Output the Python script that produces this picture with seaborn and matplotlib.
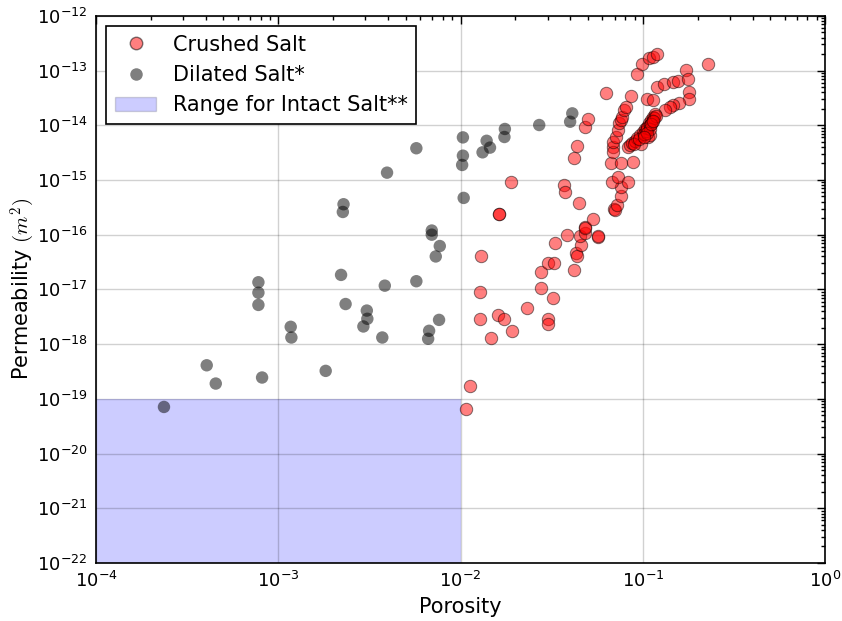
import matplotlib
matplotlib.use("Agg")
import matplotlib.pyplot as plt
import matplotlib.ticker as mticker
from matplotlib.lines import Line2D
from matplotlib.patches import Patch
import seaborn as sns
import pandas as pd
import numpy as np

# ---------------- data ----------------
dilated_porosity = [2.36e-4, 4.05e-4, 4.54e-4, 7.78e-4, 7.78e-4, 7.78e-4, 8.15e-4,
                    1.17e-3, 1.18e-3, 1.82e-3, 2.21e-3, 2.28e-3, 2.26e-3, 2.34e-3,
                    3.06e-3, 3.08e-3, 2.93e-3, 3.72e-3, 3.84e-3, 3.95e-3, 5.72e-3,
                    5.72e-3, 6.95e-3, 6.95e-3, 7.69e-3, 7.31e-3, 7.62e-3, 6.72e-3,
                    6.64e-3, 1.03e-2, 1.03e-2, 1.02e-2, 1.04e-2, 1.39e-2, 1.45e-2,
                    1.32e-2, 1.75e-2, 1.74e-2, 2.7e-2, 4.1e-2, 3.99e-2]
dilated_perm = [7.1e-20, 4.1e-19, 1.9e-19, 1.35e-17, 8.7e-18, 5.2e-18, 2.45e-19,
                2.07e-18, 1.32e-18, 3.24e-19, 1.84e-17, 3.6e-16, 2.6e-16, 5.4e-18,
                4.1e-18, 2.9e-18, 2.1e-18, 1.32e-18, 1.17e-17, 1.36e-15, 3.8e-15,
                1.41e-17, 1.19e-16, 1.0e-16, 6.2e-17, 4.0e-17, 2.77e-18, 1.75e-18,
                1.25e-18, 6.0e-15, 2.78e-15, 1.88e-15, 4.7e-16, 5.2e-15, 3.9e-15,
                3.2e-15, 8.55e-15, 6.1e-15, 1.01e-14, 1.65e-14, 1.16e-14]

crushed_porosity = [
    1.9e-2, 1.62e-2, 1.62e-2, 1.3e-2, 1.28e-2, 1.28e-2, 1.47e-2, 1.61e-2, 1.74e-2,
    1.92e-2, 2.32e-2, 2.77e-2, 2.77e-2, 1.12e-2, 1.07e-2, 3.0e-2, 3.0e-2, 3.23e-2,
    3.03e-2, 3.26e-2, 3.29e-2, 3.84e-2, 4.21e-2, 4.28e-2, 4.35e-2, 4.58e-2, 4.53e-2,
    4.82e-2, 4.8e-2, 4.8e-2, 5.66e-2, 5.66e-2, 5.31e-2, 4.49e-2, 3.7e-2, 3.73e-2,
    6.98e-2, 7.05e-2, 7.25e-2, 7.56e-2, 7.56e-2, 6.76e-2, 7.29e-2, 8.26e-2,
    4.21e-2, 4.37e-2, 4.84e-2, 4.99e-2, 6.28e-2, 6.7e-2, 7.6e-2, 8.88e-2,
    6.84e-2, 6.87e-2, 6.9e-2, 7.13e-2, 7.29e-2, 7.43e-2, 7.6e-2, 7.66e-2, 7.92e-2,
    8.05e-2, 8.63e-2, 9.27e-2, 9.83e-2, 0.1087, 0.1143, 0.119, 0.106, 0.114,
    0.119, 0.13, 0.146, 0.155, 0.1726, 0.1765, 0.1795, 0.178, 0.158, 0.146, 0.14,
    0.1324, 0.229,
    0.0833, 0.0851, 0.0876, 0.0907, 0.0934, 0.0966, 0.0999, 0.1029, 0.1051,
    0.1078, 0.1106, 0.1134, 0.1167, 0.0974, 0.1072, 0.1096, 0.0890, 0.0950,
    0.1010, 0.1040, 0.1060, 0.1090, 0.1120, 0.1150, 0.1180, 0.1100, 0.1060,
    0.1020, 0.1110, 0.1140]
crushed_perm = [
    9.3e-16, 2.4e-16, 2.35e-16, 4.0e-17, 9.0e-18, 2.9e-18, 1.28e-18, 3.4e-18, 2.9e-18,
    1.72e-18, 4.5e-18, 2.06e-17, 1.08e-17, 1.75e-19, 6.6e-20, 2.85e-18, 2.3e-18, 6.9e-18,
    3.0e-17, 3.0e-17, 6.9e-17, 9.8e-17, 2.3e-17, 4.7e-17, 4.1e-17, 6.6e-17, 9.6e-17,
    1.06e-16, 1.37e-16, 1.33e-16, 8.9e-17, 9.5e-17, 1.97e-16, 3.75e-16, 8.1e-16, 6.1e-16,
    3.0e-16, 2.8e-16, 3.5e-16, 5.2e-16, 7.5e-16, 9.3e-16, 1.15e-15, 9.1e-16,
    2.5e-15, 4.1e-15, 9.2e-15, 1.3e-14, 3.9e-14, 2.07e-15, 2.07e-15, 2.16e-15,
    4.05e-15, 3.3e-15, 5.0e-15, 6.2e-15, 8.2e-15, 1.09e-14, 1.25e-14, 1.43e-14, 1.9e-14,
    2.18e-14, 3.4e-14, 8.6e-14, 1.3e-13, 1.67e-13, 1.78e-13, 1.97e-13, 2.98e-14, 2.9e-14,
    5.06e-14, 5.7e-14, 6.2e-14, 6.5e-14, 1.03e-13, 6.9e-14, 4.0e-14, 2.98e-14, 2.58e-14,
    2.35e-14, 2.18e-14, 1.9e-14, 1.3e-13,
    4.05e-15, 4.35e-15, 4.8e-15, 5.2e-15, 5.8e-15, 6.6e-15, 7.5e-15, 8.4e-15, 9.4e-15,
    1.09e-14, 1.25e-14, 1.43e-14, 1.58e-14, 4.55e-15, 6.2e-15, 6.6e-15, 4.6e-15, 5.5e-15,
    7.0e-15, 8.0e-15, 8.8e-15, 1.0e-14, 1.15e-14, 1.35e-14, 1.5e-14, 8.5e-15, 7.2e-15,
    6.2e-15, 1.05e-14, 1.2e-14]

intact_porosity = [1e-4, 1e-2]
intact_perm = [1e-22, 1e-19]

labels = ["Crushed Salt", "Dilated Salt*", "Range for Intact Salt**"]
x_ticks = [1e-4, 1e-3, 1e-2, 1e-1, 1e0]
y_ticks = [10.0 ** e for e in range(-22, -11)]

crushed_df = pd.DataFrame({"Porosity": crushed_porosity, "Permeability": crushed_perm})
dilated_df = pd.DataFrame({"Porosity": dilated_porosity, "Permeability": dilated_perm})

# ---------------- style ----------------
sns.set_style("white")
plt.rcParams.update({
    "font.family": ["DejaVu Sans"],
    "mathtext.fontset": "cm",
    "axes.unicode_minus": False,
    "text.color": "black",
    "axes.labelcolor": "black",
    "xtick.color": "black",
    "ytick.color": "black",
    "xtick.direction": "in",
    "ytick.direction": "in",
    "xtick.top": True,
    "ytick.right": True,
    "xtick.major.size": 6,
    "ytick.major.size": 6,
    "xtick.minor.size": 3,
    "ytick.minor.size": 3,
    "xtick.major.width": 1,
    "ytick.major.width": 1,
    "xtick.minor.width": 1,
    "ytick.minor.width": 1,
    "axes.edgecolor": "black",
    "axes.linewidth": 1.2,
})

fig = plt.figure(figsize=(8.42, 6.21), dpi=100)
ax = fig.add_axes([0.114, 0.0935, 0.866, 0.881])

ax.set_xscale("log")
ax.set_yscale("log")

ax.fill_between(intact_porosity, intact_perm[0], intact_perm[1],
                color="blue", alpha=0.2, linewidth=0, zorder=1)

sns.scatterplot(data=dilated_df, x="Porosity", y="Permeability", ax=ax,
                color="black", alpha=0.5, edgecolor="none", s=80,
                zorder=3, legend=False)
sns.scatterplot(data=crushed_df, x="Porosity", y="Permeability", ax=ax,
                color="red", alpha=0.5, edgecolor="black", linewidth=0.7, s=80,
                zorder=3, legend=False)

ax.set_xlim(1e-4, 1e0)
ax.set_ylim(1e-22, 1e-12)
ax.xaxis.set_major_locator(mticker.FixedLocator(x_ticks))
ax.yaxis.set_major_locator(mticker.FixedLocator(y_ticks))
ax.xaxis.set_major_formatter(mticker.LogFormatterSciNotation())
ax.yaxis.set_major_formatter(mticker.LogFormatterSciNotation())
ax.xaxis.set_minor_locator(mticker.LogLocator(base=10, subs=np.arange(2, 10), numticks=20))
ax.yaxis.set_minor_locator(mticker.LogLocator(base=10, subs=np.arange(2, 10), numticks=20))
ax.yaxis.set_minor_formatter(mticker.NullFormatter())
ax.xaxis.set_minor_formatter(mticker.NullFormatter())
ax.tick_params(axis="both", which="major", labelsize=13, pad=6)

ax.grid(True, which="major", color="black", alpha=0.18, linewidth=1, linestyle="-")
ax.set_axisbelow(False)

ax.set_xlabel("Porosity", fontsize=15)
ax.set_ylabel(r"Permeability $(m^2)$", fontsize=15, labelpad=0)

handles = [
    Line2D([], [], marker="o", linestyle="", markersize=9,
           markerfacecolor=(1, 0, 0, 0.5), markeredgecolor=(0, 0, 0, 0.5)),
    Line2D([], [], marker="o", linestyle="", markersize=9,
           markerfacecolor=(0, 0, 0, 0.5), markeredgecolor="none"),
    Patch(facecolor=(0, 0, 1, 0.2), edgecolor=(0, 0, 0, 0.15), linewidth=1),
]
leg = ax.legend(handles, labels, loc="upper left", fontsize=15, frameon=True,
                fancybox=False, framealpha=1, edgecolor="black", numpoints=1,
                borderpad=0.4, labelspacing=0.5, handletextpad=0.8)
leg.get_frame().set_linewidth(1.2)

fig.savefig("out.png", dpi=100)
